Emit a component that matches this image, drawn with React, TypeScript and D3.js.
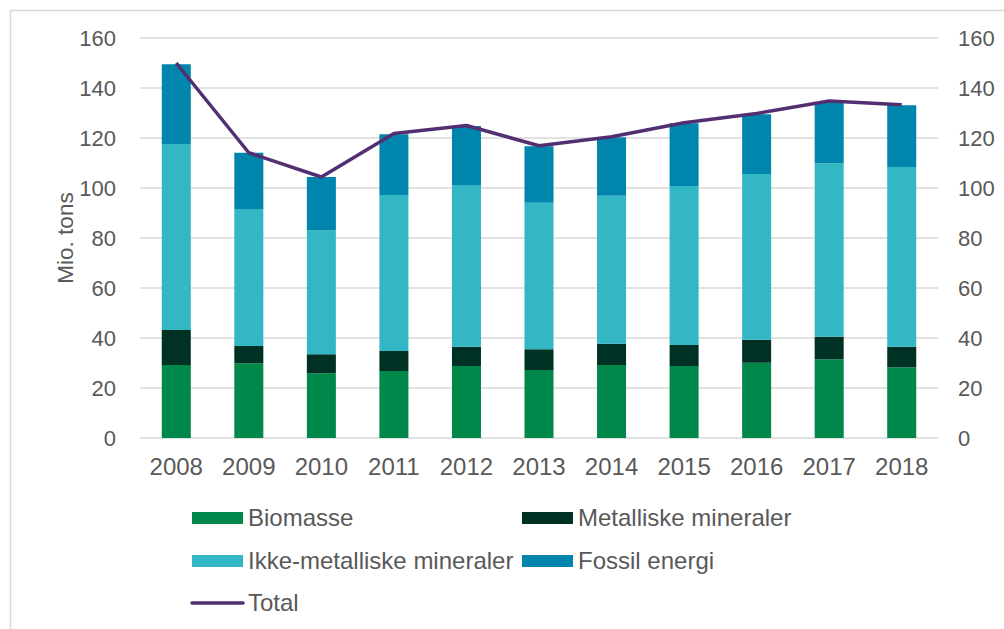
import React from "react";
import * as d3 from "d3";

const years = ["2008","2009","2010","2011","2012","2013","2014","2015","2016","2017","2018"];
const biomasse = [29.2, 29.9, 25.9, 26.8, 28.8, 27.2, 29.2, 28.8, 30.1, 31.5, 28.3];
const metalliske = [14.0, 6.9, 7.6, 8.0, 7.7, 8.3, 8.5, 8.4, 9.2, 9.0, 8.2];
const ikkeMetalliske = [74.4, 54.8, 49.6, 62.4, 64.7, 58.6, 59.2, 63.6, 66.3, 69.4, 71.9];
const fossil = [31.9, 22.5, 21.3, 24.3, 23.6, 22.6, 23.4, 25.1, 23.9, 24.4, 24.7];
const total = [150.0, 114.1, 104.4, 121.8, 125.0, 116.9, 120.5, 126.1, 129.8, 134.8, 133.3];
const yTicks = [0, 20, 40, 60, 80, 100, 120, 140, 160];

const seriesNames = ["Biomasse", "Metalliske mineraler", "Ikke-metalliske mineraler", "Fossil energi"];
const seriesColors = ["#00874a", "#003125", "#33b7c4", "#0086ad"];
const lineColor = "#532f72";
const textColor = "#595959";
const gridColor = "#d9d9d9";

export default function App() {
  const W = 1004, H = 629;
  const x0 = 140, x1 = 938, yTop = 38, yBot = 438;
  const band = d3.scaleBand<string>().domain(years).range([x0, x1]);
  const y = d3.scaleLinear().domain([0, 160]).range([yBot, yTop]);

  const rows = years.map((yr, i) => ({
    year: yr,
    b: biomasse[i], m: metalliske[i], k: ikkeMetalliske[i], f: fossil[i],
  }));
  const stack = d3.stack<any>().keys(["b", "m", "k", "f"])(rows);

  const bw = band.bandwidth() / 2.5;
  const cx = (yr: string) => (band(yr) as number) + band.bandwidth() / 2;

  const line = d3.line<number>()
    .x((_, i) => cx(years[i]))
    .y((d) => y(d));

  const font = "'Liberation Sans', Arial, sans-serif";

  const legendItems = [
    { name: seriesNames[0], color: seriesColors[0], x: 192, y: 518, type: "rect" },
    { name: seriesNames[1], color: seriesColors[1], x: 522, y: 518, type: "rect" },
    { name: seriesNames[2], color: seriesColors[2], x: 192, y: 561, type: "rect" },
    { name: seriesNames[3], color: seriesColors[3], x: 522, y: 561, type: "rect" },
    { name: "Total", color: lineColor, x: 192, y: 603, type: "line" },
  ];

  return (
    <svg width={W} height={H} style={{ position: "absolute", left: 0, top: 0, background: "#fff" }} fontFamily={font}>
      <rect x={10.5} y={10.5} width={W + 10} height={H + 10} fill="#fff" stroke={gridColor} strokeWidth={1.5} />
      {yTicks.map((t) => (
        <g key={t}>
          <line x1={x0} x2={x1} y1={y(t)} y2={y(t)} stroke={gridColor} strokeWidth={1.5} />
          <text x={116} y={y(t)} dy="0.35em" textAnchor="end" fontSize={22} fill={textColor}>{t}</text>
          <text x={958} y={y(t)} dy="0.35em" textAnchor="start" fontSize={22} fill={textColor}>{t}</text>
        </g>
      ))}
      {stack.map((s, si) => (
        <g key={si} fill={seriesColors[si]}>
          {s.map((d: any, i: number) => (
            <rect key={i} x={cx(years[i]) - bw / 2} width={bw} y={y(d[1])} height={y(d[0]) - y(d[1])} />
          ))}
        </g>
      ))}
      <path d={line(total) as string} fill="none" stroke={lineColor} strokeWidth={3.5} strokeLinejoin="round" />
      {years.map((yr) => (
        <text key={yr} x={cx(yr)} y={467} dy="0.35em" textAnchor="middle" fontSize={24} fill={textColor}>{yr}</text>
      ))}
      <text transform={`translate(73,238) rotate(-90)`} textAnchor="middle" fontSize={22.5} fill={textColor}>Mio. tons</text>
      {legendItems.map((it) => (
        <g key={it.name}>
          {it.type === "rect" ? (
            <rect x={it.x} y={it.y - 6} width={51} height={12} fill={it.color} />
          ) : (
            <line x1={it.x} x2={it.x + 51} y1={it.y} y2={it.y} stroke={it.color} strokeWidth={3.5} strokeLinecap="round" />
          )}
          <text x={it.x + 56} y={it.y} dy="0.35em" fontSize={24} fill={textColor}>{it.name}</text>
        </g>
      ))}
    </svg>
  );
}
